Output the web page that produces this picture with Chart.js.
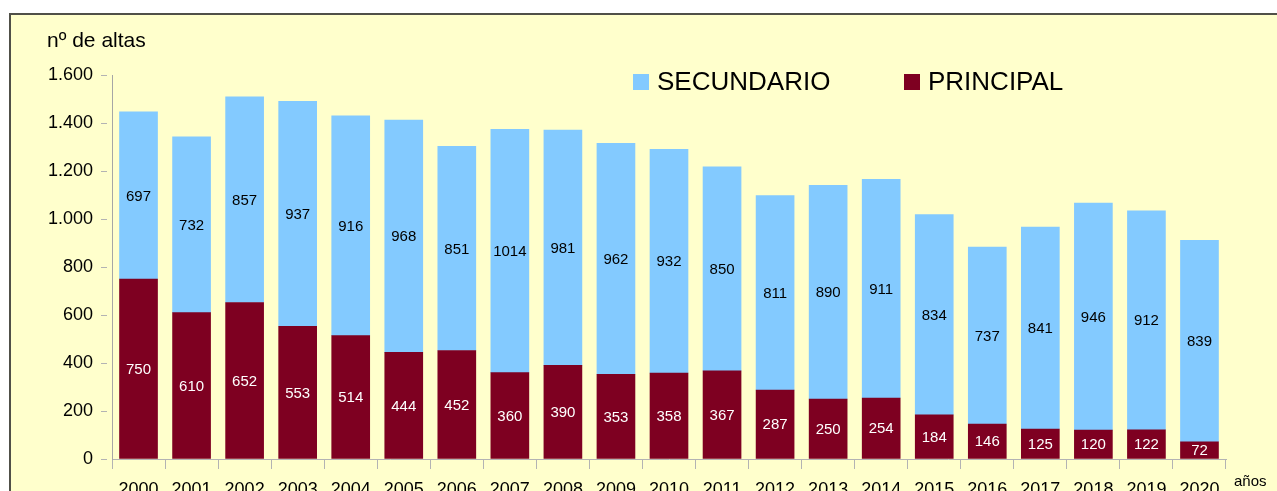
<!DOCTYPE html>
<html lang="es">
  <head>
    <meta charset="UTF-8" />
    <title>Altas por año</title>
    <script src="https://cdn.jsdelivr.net/npm/chart.js"></script>
    <style>
      html, body { margin: 0; padding: 0; background: #ffffff; }
      #wrap { width: 1277px; height: 491px; }
    </style>
  </head>
  <body>
    <div id="wrap"><canvas id="altasChart" width="1277" height="491"></canvas></div>
    <script>
      const years = ["2000", "2001", "2002", "2003", "2004", "2005", "2006", "2007", "2008", "2009", "2010",
        "2011", "2012", "2013", "2014", "2015", "2016", "2017", "2018", "2019", "2020"];
      const principal = [750, 610, 652, 553, 514, 444, 452, 360, 390, 353, 358, 367, 287, 250, 254, 184, 146, 125, 120, 122, 72];
      const secundario = [697, 732, 857, 937, 916, 968, 851, 1014, 981, 962, 932, 850, 811, 890, 911, 834, 737, 841, 946, 912, 839];
      const yTicks = [0, 200, 400, 600, 800, 1000, 1200, 1400, 1600];

      const FONT = '"Liberation Sans", Arial, sans-serif';
      const BLUE = "#83caff";
      const RED = "#7e0021";
      const AXIS = "#b3b3b3";

      const fmt = (v) => String(v).replace(/\B(?=(\d{3})+(?!\d))/g, ".");

      // yellow panel with its dark frame
      const panel = {
        id: "panel",
        beforeDraw(chart) {
          const ctx = chart.ctx;
          ctx.save();
          ctx.fillStyle = "#ffffff";
          ctx.fillRect(0, 0, chart.width, chart.height);
          ctx.fillStyle = "#ffffcc";
          ctx.fillRect(9, 13, chart.width - 9, chart.height - 13);
          ctx.strokeStyle = "#505048";
          ctx.lineWidth = 2;
          ctx.beginPath();
          ctx.moveTo(10, chart.height);
          ctx.lineTo(10, 14);
          ctx.lineTo(chart.width, 14);
          ctx.stroke();
          ctx.restore();
        },
      };

      // values in the middle of each segment, plus titles and legend
      const labels = {
        id: "labels",
        afterDatasetsDraw(chart) {
          const ctx = chart.ctx;
          ctx.save();
          ctx.font = "15px " + FONT;
          ctx.textAlign = "center";
          ctx.textBaseline = "middle";
          chart.data.datasets.forEach((ds, i) => {
            const meta = chart.getDatasetMeta(i);
            ctx.fillStyle = ds.labelColor;
            meta.data.forEach((bar, j) => {
              const p = bar.getProps(["x", "y", "base"], true);
              ctx.fillText(String(ds.data[j]), p.x, (p.y + p.base) / 2 + 1);
            });
          });

          ctx.fillStyle = "#000000";
          ctx.textAlign = "left";
          ctx.textBaseline = "alphabetic";
          ctx.font = "21px " + FONT;
          ctx.fillText("nº de altas", 47, 47);
          ctx.font = "15px " + FONT;
          ctx.fillText("años", 1234, 486);

          // legend
          const items = [
            { text: "SECUNDARIO", color: BLUE, x: 633 },
            { text: "PRINCIPAL", color: RED, x: 904 },
          ];
          ctx.font = "26px " + FONT;
          ctx.textBaseline = "middle";
          items.forEach((it) => {
            ctx.fillStyle = it.color;
            ctx.fillRect(it.x, 74, 16, 16);
            ctx.fillStyle = "#000000";
            ctx.fillText(it.text, it.x + 24, 83);
          });
          ctx.restore();
        },
      };

      new Chart(document.getElementById("altasChart"), {
        type: "bar",
        data: {
          labels: years,
          datasets: [
            { label: "PRINCIPAL", data: principal, backgroundColor: RED, labelColor: "#ffffff" },
            { label: "SECUNDARIO", data: secundario, backgroundColor: BLUE, labelColor: "#000000" },
          ],
        },
        options: {
          responsive: false,
          animation: false,
          barThickness: 38,
          layout: { padding: { top: 75, right: 51, left: 0, bottom: 0 } },
          plugins: {
            legend: { display: false },
            tooltip: { enabled: false },
          },
          scales: {
            x: {
              stacked: true,
              afterFit: (s) => { s.height = 32; },
              grid: { offset: true, drawOnChartArea: false, color: AXIS, tickLength: 10, tickColor: AXIS },
              border: { color: AXIS, width: 1 },
              ticks: { color: "#000000", font: { family: FONT, size: 18 }, padding: 10, maxRotation: 0, autoSkip: false },
            },
            y: {
              stacked: true,
              min: 0,
              max: 1600,
              afterFit: (s) => { s.width = 112; },
              afterBuildTicks: (s) => { s.ticks = yTicks.map((v) => ({ value: v })); },
              grid: { drawOnChartArea: false, tickLength: 11, tickColor: AXIS, tickBorderDash: [6, 5] },
              border: { color: "#a6a6a6", width: 1, dash: [6, 3] },
              ticks: { color: "#000000", font: { family: FONT, size: 18 }, padding: 8, callback: (v) => fmt(v) },
            },
          },
        },
        plugins: [panel, labels],
      });
    </script>
  </body>
</html>
